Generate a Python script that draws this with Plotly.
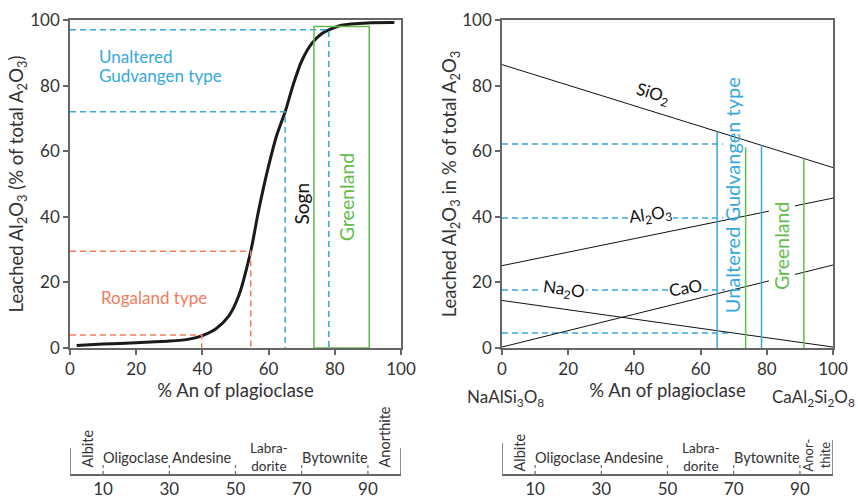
import plotly.graph_objects as go

W, H = 858, 497

# ---------------- data ----------------
# left panel: leached Al2O3 curve
curve_an = [2, 10, 20, 30, 36, 40, 44, 48, 51, 54.6, 57, 60, 62.5, 65, 67.5, 70, 73, 76, 78.2, 82, 90, 98]
curve_leached = [0.8, 1.2, 1.6, 2.1, 2.7, 3.8, 5.8, 9.8, 16, 29.5, 42, 55.5, 65, 72, 80.5, 87.5, 92.8, 95.8, 97.0, 98.4, 99.1, 99.2]

rogaland_an = [39.8, 54.6]
rogaland_leached = [4.0, 29.5]
gudvangen_an = [65.0, 78.2]
gudvangen_leached = [72.0, 97.0]
greenland_an = [73.7, 90.4]
greenland_top = 98.0

# right panel: oxide lines
oxides = ["SiO<sub>2</sub>", "Al<sub>2</sub>O<sub>3</sub>", "Na<sub>2</sub>O", "CaO"]
oxide_an = [0, 100]
oxide_at_0 = [86.4, 25.1, 14.5, 0.3]
oxide_at_100 = [55.0, 45.7, 0.3, 25.3]

gud_r_an = [65.0, 78.4]
gud_r_top = [66.0, 61.8]
green_r_an = [73.6, 91.2]
green_r_top = [61.2, 57.8]
dash_levels = [62.2, 39.6, 17.7, 4.6]
dash_ends = [66.8, 66.8, 67.3, 69.3]

# plagioclase scale
mineral_names = ["Albite", "Oligoclase", "Andesine", "Labra-<br>dorite", "Bytownite", "Anorthite"]
mineral_names_r = ["Albite", "Oligoclase", "Andesine", "Labra-<br>dorite", "Bytownite", "Anor-<br>thite"]
boundaries = [0, 10, 30, 50, 70, 90, 100]
axis_ticks = [0, 20, 40, 60, 80, 100]

# ---------------- styling ----------------
FONT = "Lato"
BLUE = "#35a8de"
ORANGE = "#f27c5c"
GREEN = "#62bd4a"
AX = "#666666"
TXT = "#333333"


def fx(p):
    return p / W


def fy(p):
    return 1 - p / H


fig = go.Figure()

# left curve
fig.add_trace(go.Scatter(x=curve_an, y=curve_leached, mode="lines",
                         line=dict(color="#1a1a1a", width=3, shape="spline", smoothing=0.8),
                         xaxis="x", yaxis="y", hoverinfo="skip"))
for a, l in zip(rogaland_an, rogaland_leached):
    fig.add_trace(go.Scatter(x=[0, a, a], y=[l, l, 0], mode="lines",
                             line=dict(color=ORANGE, width=1.5, dash="6px,4px"), xaxis="x", yaxis="y"))
for a, l in zip(gudvangen_an, gudvangen_leached):
    fig.add_trace(go.Scatter(x=[0, a, a], y=[l, l, 0], mode="lines",
                             line=dict(color=BLUE, width=1.5, dash="6px,4px"), xaxis="x", yaxis="y"))
g0, g1 = greenland_an
fig.add_trace(go.Scatter(x=[g0, g1, g1, g0, g0], y=[0, 0, greenland_top, greenland_top, 0], mode="lines",
                         line=dict(color=GREEN, width=1.5), xaxis="x", yaxis="y"))

# right panel
for lvl, end in zip(dash_levels, dash_ends):
    fig.add_trace(go.Scatter(x=[0, end], y=[lvl, lvl], mode="lines",
                             line=dict(color=BLUE, width=1.5, dash="6px,4px"), xaxis="x2", yaxis="y2"))
for y0, y1 in zip(oxide_at_0, oxide_at_100):
    fig.add_trace(go.Scatter(x=oxide_an, y=[y0, y1], mode="lines",
                             line=dict(color="#111111", width=1), xaxis="x2", yaxis="y2"))
for a, t in zip(gud_r_an, gud_r_top):
    fig.add_trace(go.Scatter(x=[a, a], y=[0, t], mode="lines",
                             line=dict(color=BLUE, width=1.5), xaxis="x2", yaxis="y2"))
for a, t in zip(green_r_an, green_r_top):
    fig.add_trace(go.Scatter(x=[a, a], y=[0, t], mode="lines",
                             line=dict(color=GREEN, width=1.5), xaxis="x2", yaxis="y2"))

ann = []


def A(text, x, y, xref, yref, size=17, color=TXT, angle=0, **kw):
    d = dict(text=text, x=x, y=y, xref=xref, yref=yref, showarrow=False, textangle=angle,
             font=dict(family=FONT, size=size, color=color))
    d.update(kw)
    ann.append(d)


# left labels
A("Unaltered", 8.3, 88.8, "x", "y", size=17, color=BLUE, xanchor="left")
A("Gudvangen type", 8.3, 83.0, "x", "y", size=17, color=BLUE, xanchor="left")
A("Rogaland type", 8.7, 15.5, "x", "y", size=17, color=ORANGE, xanchor="left")
A("Sogn", 70, 44, "x", "y", size=19, color="#111111", angle=-90)
A("Greenland", 83.4, 46, "x", "y", size=19.5, color=GREEN, angle=-90)

# right labels
A(oxides[0], 45.5, 77.5, "x2", "y2", size=17, color="#111111", angle=17)
A(oxides[1], 45, 40.5, "x2", "y2", size=17, color="#111111", angle=-8, bgcolor="white", borderpad=0)
A(oxides[2], 18.8, 17.6, "x2", "y2", size=17, color="#111111", angle=8, bgcolor="white", borderpad=0)
A(oxides[3], 55.5, 18.3, "x2", "y2", size=17, color="#111111", angle=-10, bgcolor="white", borderpad=0)
A("Unaltered Gudvangen type", 69.3, 46.7, "x2", "y2", size=20, color=BLUE, angle=-90)
A("Greenland", 84.5, 31, "x2", "y2", size=19.5, color=GREEN, angle=-90, bgcolor="white", borderpad=1)

A("NaAlSi<sub>3</sub>O<sub>8</sub>", fx(465), fy(412), "paper", "paper", size=17, xanchor="left")
A("CaAl<sub>2</sub>Si<sub>2</sub>O<sub>8</sub>", fx(857), fy(412), "paper", "paper", size=17, xanchor="right")

# scale labels (y of scale axes = pixels above the scale baseline)
mids = [(boundaries[i] + boundaries[i + 1]) / 2 for i in range(len(boundaries) - 1)]
for xr, yr, names, right in (("x3", "y3", mineral_names, False), ("x4", "y4", mineral_names_r, True)):
    for i, (name, m) in enumerate(zip(names, mids)):
        multi = "<br>" in name
        if i == 0:
            A(name, m, 21 if right else 25, xr, yr, size=14.5, angle=-90)
        elif i == len(names) - 1:
            if multi:
                A(name, m, 19, xr, yr, size=13, angle=-90)
            else:
                A(name, m, 37, xr, yr, size=14.5, angle=-90)
        else:
            if multi:
                A(name, m, 17.5, xr, yr, size=13.5)
            else:
                A(name, m, 17, xr, yr, size=14.5)

shapes = []
for xr, yr, h0, h1 in (("x3", "y3", 26, 26), ("x4", "y4", 31, 34)):
    shapes.append(dict(type="line", xref=xr, yref=yr, x0=boundaries[0], x1=boundaries[0], y0=0, y1=h0,
                       line=dict(color=AX, width=1.5)))
    shapes.append(dict(type="line", xref=xr, yref=yr, x0=boundaries[-1], x1=boundaries[-1], y0=0, y1=h1,
                       line=dict(color=AX, width=1.5)))
    for b in boundaries[1:-1]:
        shapes.append(dict(type="line", xref=xr, yref=yr, x0=b, x1=b, y0=0, y1=11,
                           line=dict(color=AX, width=1.2, dash="dot")))

main_axis = dict(range=[0, 100], showline=True, linecolor=AX, linewidth=1.5, mirror=True,
                 ticks="outside", ticklen=5, tickcolor=AX, tickwidth=1.5, showgrid=False, zeroline=False,
                 tickvals=axis_ticks, tickfont=dict(family=FONT, size=17, color=TXT), automargin=False)

ytitle_l = "Leached Al<sub>2</sub>O<sub>3</sub> (% of total A<sub>2</sub>O<sub>3</sub>)"
ytitle_r = "Leached Al<sub>2</sub>O<sub>3</sub> in % of total A<sub>2</sub>O<sub>3</sub>"
xtitle = "% An of plagioclase"
TF = dict(family=FONT, size=18.5, color=TXT)

scale_axis = dict(range=[0, 100], showline=True, linecolor=AX, linewidth=1.5, ticks="",
                  showgrid=False, zeroline=False, tickvals=boundaries[1:-1], automargin=False,
                  tickfont=dict(family=FONT, size=17, color=TXT), ticklabelstandoff=-1)
scale_y = dict(range=[0, 74], visible=False, domain=[fy(474), fy(400)], automargin=False)

fig.update_layout(
    width=W, height=H, margin=dict(l=0, r=0, t=0, b=0, autoexpand=False),
    paper_bgcolor="white", plot_bgcolor="white", showlegend=False,
    xaxis=dict(main_axis, domain=[fx(70), fx(401)], anchor="y",
               title=dict(text=xtitle, standoff=2, font=TF)),
    yaxis=dict(main_axis, domain=[fy(348), fy(20)], anchor="x",
               title=dict(text=ytitle_l, standoff=2, font=TF)),
    xaxis2=dict(main_axis, domain=[fx(502), fx(833)], anchor="y2",
                title=dict(text=xtitle, standoff=2, font=TF)),
    yaxis2=dict(main_axis, domain=[fy(348), fy(20)], anchor="x2",
                title=dict(text=ytitle_r, standoff=1, font=TF)),
    xaxis3=dict(scale_axis, domain=[fx(70), fx(401)], anchor="y3"),
    yaxis3=dict(scale_y, anchor="x3"),
    xaxis4=dict(scale_axis, domain=[fx(502), fx(833)], anchor="y4"),
    yaxis4=dict(scale_y, anchor="x4"),
    annotations=ann, shapes=shapes,
)

fig.write_html("out.html", config=dict(displayModeBar=False),
               post_script="document.body.style.margin='0px';document.body.style.overflow='hidden';")
